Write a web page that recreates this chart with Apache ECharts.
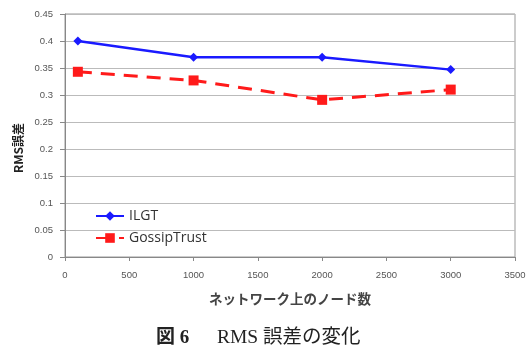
<!DOCTYPE html>
<html><head><meta charset="utf-8">
<script src="https://cdn.jsdelivr.net/npm/echarts@6/dist/echarts.min.js"></script>
<style>html,body{margin:0;padding:0;background:#fff}#c{width:532px;height:353px}</style>
</head><body><div id="c"></div>
<script>
var nodes = [100, 1000, 2000, 3000];
var ilgt = [0.40, 0.37, 0.37, 0.347];
var gossip = [0.343, 0.327, 0.291, 0.31];
var seriesNames = ['ILGT', 'GossipTrust'];
var xTitle = 'ネットワーク上のノード数';
var yTitle = 'RMS誤差';
var captionLabel = '図 6';
var captionText = 'RMS 誤差の変化';

var chart = echarts.init(document.getElementById('c'));
function pairs(xs, ys){ return xs.map(function(x,i){return [x, ys[i]];}); }
chart.setOption({
  animation: false,
  grid: {left: 65, right: 17, top: 14, bottom: 96, show: true, borderColor: '#999', borderWidth: 1},
  legend: {
    orient: 'vertical', left: 90, top: 204, itemGap: 8, itemWidth: 28, itemHeight: 12,
    textStyle: {fontFamily: 'Open Sans, sans-serif', fontSize: 14, color: '#333'},
    data: seriesNames
  },
  xAxis: {
    type: 'value', min: 0, max: 3500, interval: 500,
    axisLine: {show: true, onZero: false, lineStyle: {color: '#888'}},
    axisTick: {show: true, length: 4, lineStyle: {color: '#888'}},
    splitLine: {show: false},
    axisLabel: {fontSize: 9.5, color: '#555', margin: 13, fontFamily: 'Liberation Sans, sans-serif',
      formatter: function(v){ return String(v); }},
    name: xTitle, nameLocation: 'middle', nameGap: 35,
    nameTextStyle: {fontSize: 13.5, fontWeight: 'bold', color: '#444', fontFamily: 'Noto Sans CJK JP'}
  },
  yAxis: {
    type: 'value', min: 0, max: 0.45, interval: 0.05,
    axisLine: {show: true, lineStyle: {color: '#888'}},
    axisTick: {show: true, length: 5, inside: false, lineStyle: {color: '#888'}},
    splitLine: {show: true, lineStyle: {color: '#bbb', width: 1}},
    axisLabel: {fontSize: 9.5, color: '#555', margin: 12, fontFamily: 'Liberation Sans, sans-serif',
      formatter: function(v){ return String(Math.round(v*100)/100); }}
  },
  series: [
    {name: seriesNames[0], type: 'line', data: pairs(nodes, ilgt),
     symbol: 'diamond', symbolSize: 9,
     lineStyle: {color: '#1a1aff', width: 2.5}, itemStyle: {color: '#1a1aff'}},
    {name: seriesNames[1], type: 'line', data: pairs(nodes, gossip),
     symbol: 'rect', symbolSize: 10,
     lineStyle: {color: '#ff1a1a', width: 3, type: [14, 9]}, itemStyle: {color: '#ff1a1a'}}
  ],
  graphic: [{
    type: 'text', x: 18, y: 148, rotation: Math.PI / 2,
    style: {text: yTitle, font: 'bold 12px "Noto Sans CJK JP", sans-serif', fill: '#222',
      align: 'center', verticalAlign: 'middle'}
  }, {
    type: 'text', x: 156, y: 338,
    style: {text: captionLabel, align: 'left', verticalAlign: 'middle',
      font: 'bold 19px "Liberation Serif", "Noto Sans CJK JP", serif', fill: '#222'}
  }, {
    type: 'text', x: 217, y: 338,
    style: {text: captionText, align: 'left', verticalAlign: 'middle',
      font: '19.5px "Liberation Serif", "Noto Sans CJK JP", serif', fill: '#222'}
  }]
});
</script></body></html>
